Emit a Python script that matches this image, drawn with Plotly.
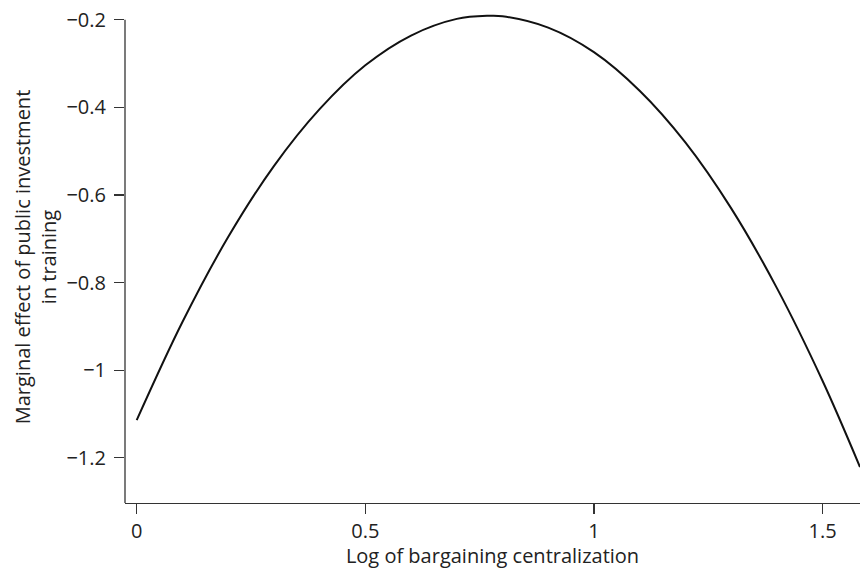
import plotly.graph_objects as go

# Values
x_vals = [0.0, 0.1, 0.2, 0.3, 0.4, 0.5, 0.6, 0.7, 0.77, 0.8, 0.9, 1.0, 1.1, 1.2, 1.3, 1.4, 1.5, 1.582]
y_vals = [-1.114, -0.890, -0.696, -0.534, -0.404, -0.304, -0.236, -0.198, -0.191, -0.192,
          -0.218, -0.274, -0.362, -0.480, -0.630, -0.812, -1.024, -1.221]

x_ticks = [0, 0.5, 1, 1.5]
x_tick_labels = ["0", "0.5", "1", "1.5"]
y_ticks = [-1.2, -1.0, -0.8, -0.6, -0.4, -0.2]
y_tick_labels = ["\u22121.2", "\u22121", "\u22120.8", "\u22120.6", "\u22120.4", "\u22120.2"]

x_range = [-0.0256, 1.582]
y_range = [-1.303, -0.18]

font_family = "Open Sans, Lato, sans-serif"
axis_color = "#333333"
fs = 20

fig = go.Figure()
fig.add_trace(go.Scatter(
    x=x_vals, y=y_vals, mode="lines",
    line=dict(color="#111111", width=2, shape="spline", smoothing=1.0),
    showlegend=False, hoverinfo="skip",
))

# y-axis spine only up to the top tick
fig.add_shape(type="line", xref="paper", yref="y", x0=0, x1=0,
              y0=y_range[0], y1=y_ticks[-1],
              line=dict(color=axis_color, width=1.3))

fig.update_layout(
    width=860, height=569,
    margin=dict(l=125, r=0, t=11, b=66, autoexpand=False),
    paper_bgcolor="white", plot_bgcolor="white",
    font=dict(family=font_family, size=fs, color="#222222"),
    xaxis=dict(
        range=x_range, tickvals=x_ticks, ticktext=x_tick_labels, automargin=False,
        showgrid=False, zeroline=False, showline=True, linecolor=axis_color, linewidth=1.3,
        ticks="outside", ticklen=10, tickwidth=1.2, tickcolor=axis_color,
        title=dict(text="Log of bargaining centralization", standoff=6,
                   font=dict(size=fs, family=font_family)),
        tickfont=dict(size=fs, family=font_family),
    ),
    yaxis=dict(
        range=y_range, tickvals=y_ticks, ticktext=y_tick_labels, automargin=False,
        showgrid=False, zeroline=False, showline=False,
        ticks="outside", ticklen=10, tickwidth=1.2, tickcolor=axis_color,
        ticklabelstandoff=4,
        title=dict(text="Marginal effect of public investment<br>in training", standoff=4,
                   font=dict(size=fs, family=font_family)),
        tickfont=dict(size=fs, family=font_family),
    ),
)

fig.write_html("out.html",
               config={"displayModeBar": False, "staticPlot": True},
               post_script="document.body.style.margin='0px';document.body.style.overflow='hidden';")
